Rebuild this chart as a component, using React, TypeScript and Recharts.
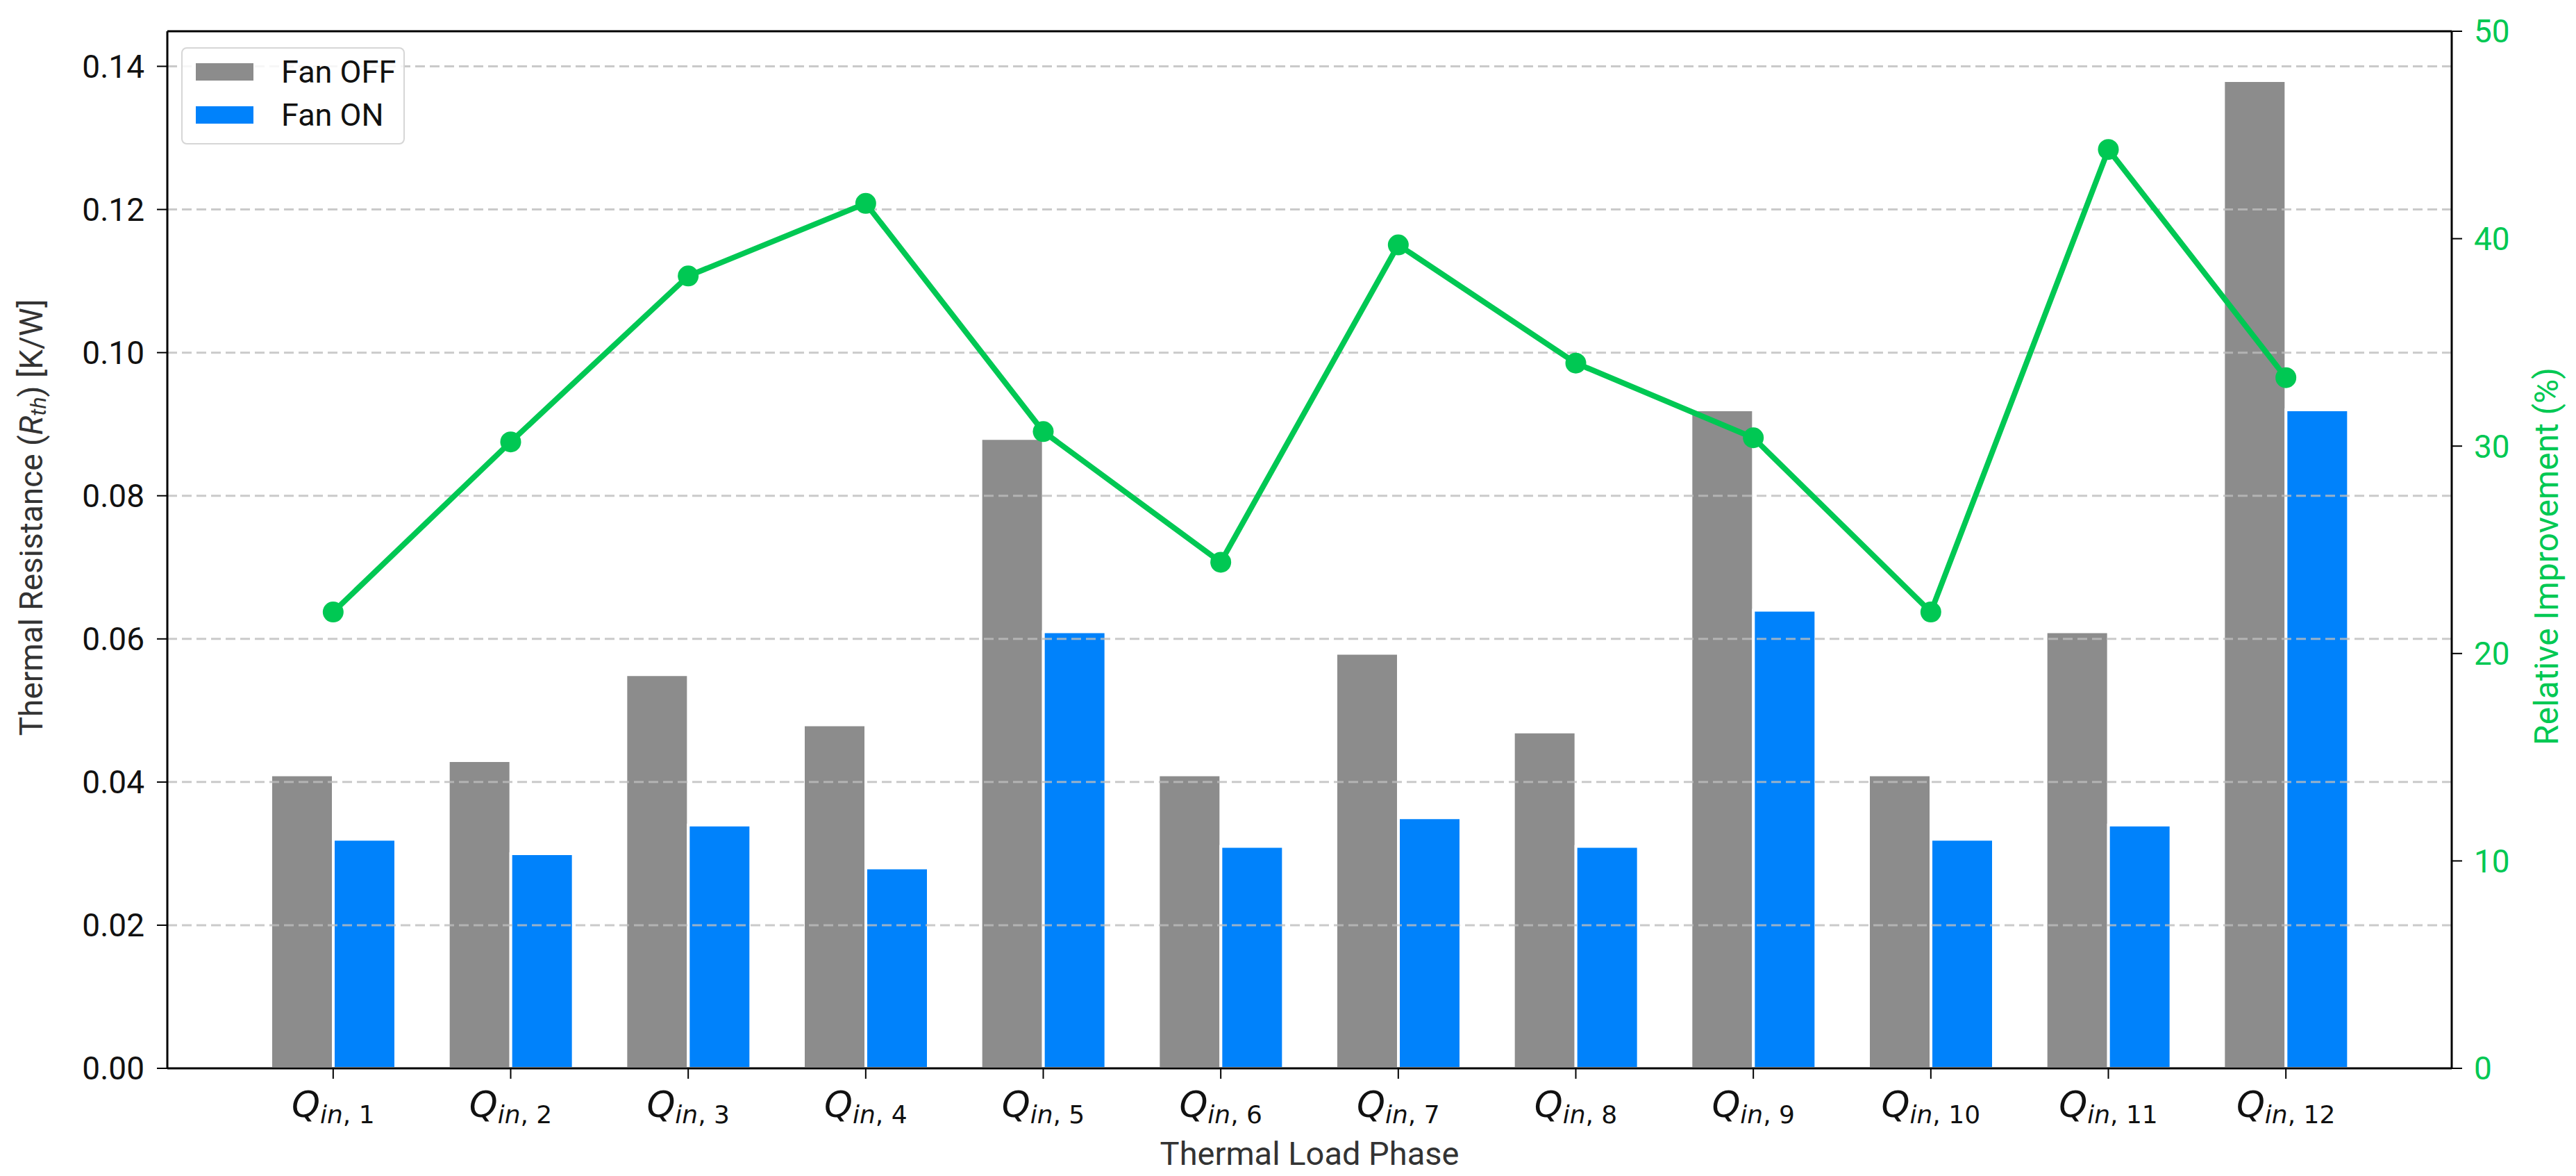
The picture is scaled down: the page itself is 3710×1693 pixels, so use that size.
import React from "react";
import {
  ComposedChart,
  Bar,
  Line,
  XAxis,
  YAxis,
  ReferenceLine,
  Legend,
} from "recharts";

// thermal load phases Q_in,1 .. Q_in,12
const phases = ["1", "2", "3", "4", "5", "6", "7", "8", "9", "10", "11", "12"];
const fanOff = [0.041, 0.043, 0.055, 0.048, 0.088, 0.041, 0.058, 0.047, 0.092, 0.041, 0.061, 0.138];
const fanOn = [0.032, 0.03, 0.034, 0.028, 0.061, 0.031, 0.035, 0.031, 0.064, 0.032, 0.034, 0.092];
const improvement = [22.0, 30.2, 38.2, 41.7, 30.7, 24.4, 39.7, 34.0, 30.4, 22.0, 44.3, 33.3];

const leftTicks = [0, 0.02, 0.04, 0.06, 0.08, 0.1, 0.12, 0.14];
const rightTicks = [0, 10, 20, 30, 40, 50];
const leftMax = 0.1449;

const GRAY = "#8c8c8c";
const BLUE = "#0082fb";
const GREEN = "#00c853";
const FONT = "Roboto, 'Noto Sans', sans-serif";

const data = phases.map((p, i) => ({
  phase: p,
  off: fanOff[i],
  on: fanOn[i],
  imp: improvement[i],
}));

const PhaseTick = (props: any) => {
  const { x, y, payload } = props;
  return (
    <text x={x} y={y + 53} textAnchor="middle" fill="#111" fontFamily="'DejaVu Sans', sans-serif">
      <tspan fontStyle="italic" fontSize={52}>Q</tspan>
      <tspan fontSize={36} dy={9}>
        <tspan fontStyle="italic">in</tspan>
        {", " + payload.value}
      </tspan>
    </text>
  );
};

const xTitle = () => (
  <text x={1886} y={1677} textAnchor="middle" fontSize={47} fill="#333" fontFamily={FONT}>
    Thermal Load Phase
  </text>
);

const leftTitle = () => (
  <text
    transform="translate(45,745) rotate(-90)"
    textAnchor="middle"
    dominantBaseline="central"
    fontSize={46}
    fill="#333"
    fontFamily={FONT}
  >
    Thermal Resistance (
    <tspan fontStyle="italic">R</tspan>
    <tspan fontStyle="italic" fontSize={32} dy={10}>th</tspan>
    <tspan dy={-10}>) [K/W]</tspan>
  </text>
);

const rightTitle = () => (
  <text
    transform="translate(3667,801) rotate(-90)"
    textAnchor="middle"
    dominantBaseline="central"
    fontSize={48}
    fill={GREEN}
    fontFamily={FONT}
  >
    Relative Improvement (%)
  </text>
);

const renderLegend = (props: any) => {
  const items = (props.payload || []).filter((it: any) => it.type !== "none");
  return (
    <div
      style={{
        width: 322,
        height: 140,
        boxSizing: "border-box",
        border: "2px solid #d6d6d6",
        borderRadius: 8,
        background: "rgba(255,255,255,0.85)",
        position: "relative",
        fontFamily: FONT,
      }}
    >
      {items.map((it: any, i: number) => (
        <div
          key={it.value}
          style={{ position: "absolute", left: 19, top: 21 + i * 62, display: "flex", alignItems: "center" }}
        >
          <div style={{ width: 83, height: 25, background: it.color }} />
          <span style={{ marginLeft: 40, fontSize: 45, lineHeight: "25px", color: "#111" }}>{it.value}</span>
        </div>
      ))}
    </div>
  );
};

const App = () => {
  return (
    <div style={{ position: "absolute", left: 0, top: 0, background: "#fff" }}>
      <ComposedChart
        width={3710}
        height={1693}
        data={data}
        margin={{ top: 45, right: 39, bottom: 55, left: 41 }}
        barGap={0}
        barCategoryGap={38}
        style={{ fontFamily: FONT }}
      >
        <XAxis
          dataKey="phase"
          padding={{ left: 111, right: 111 }}
          height={100}
          tick={<PhaseTick />}
          tickSize={15}
          tickMargin={2}
          axisLine={{ stroke: "#000", strokeWidth: 3 }}
          tickLine={{ stroke: "#000", strokeWidth: 2 }}
          interval={0}
          label={{ content: xTitle }}
        />
        <YAxis
          yAxisId="left"
          width={200}
          domain={[0, leftMax]}
          ticks={leftTicks}
          tickFormatter={(v: number) => v.toFixed(2)}
          tick={{ fontSize: 46, fill: "#111" }}
          tickSize={15}
          tickMargin={18}
          axisLine={{ stroke: "#000", strokeWidth: 3 }}
          tickLine={{ stroke: "#000", strokeWidth: 2 }}
          allowDataOverflow
          label={{ content: leftTitle }}
        />
        <YAxis
          yAxisId="right"
          orientation="right"
          width={140}
          domain={[0, 50]}
          ticks={rightTicks}
          tick={{ fontSize: 46, fill: GREEN }}
          tickSize={15}
          tickMargin={17}
          axisLine={{ stroke: "#000", strokeWidth: 3 }}
          tickLine={{ stroke: "#000", strokeWidth: 2 }}
          allowDataOverflow
          label={{ content: rightTitle }}
        />
        <Bar
          yAxisId="left"
          dataKey="off"
          name="Fan OFF"
          fill={GRAY}
          stroke="#fff"
          strokeWidth={4}
          isAnimationActive={false}
        />
        <Bar
          yAxisId="left"
          dataKey="on"
          name="Fan ON"
          fill={BLUE}
          stroke="#fff"
          strokeWidth={4}
          isAnimationActive={false}
        />
        {leftTicks.slice(1).map((t) => (
          <ReferenceLine
            key={t}
            yAxisId="left"
            y={t}
            stroke="#bdbdbd"
            strokeOpacity={0.8}
            strokeWidth={3}
            strokeDasharray="14 7"
          />
        ))}
        <ReferenceLine yAxisId="left" y={leftMax} stroke="#000" strokeWidth={3} />
        <Line
          yAxisId="right"
          type="linear"
          dataKey="imp"
          name="Relative Improvement"
          stroke={GREEN}
          strokeWidth={8}
          dot={{ r: 15, fill: GREEN, stroke: "none" }}
          activeDot={false}
          legendType="none"
          isAnimationActive={false}
        />
        <Legend
          layout="vertical"
          align="center"
          verticalAlign="middle"
          content={renderLegend}
          wrapperStyle={{ left: 261, top: 68, width: 322, height: 140 }}
        />
      </ComposedChart>
    </div>
  );
};

export default App;
